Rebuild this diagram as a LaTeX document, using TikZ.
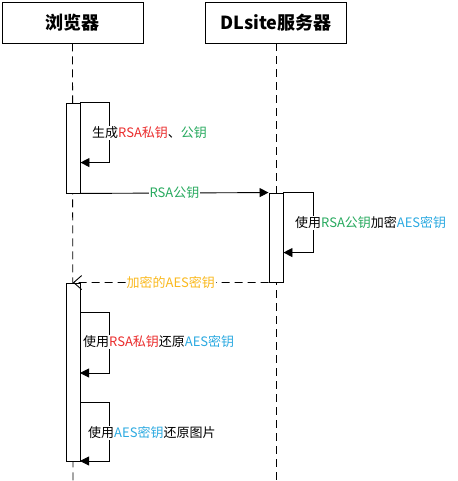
\documentclass[tikz,border=0pt]{standalone}
\usepackage{fontspec}
\setmainfont{Noto Sans CJK SC}
\usetikzlibrary{arrows.meta, positioning}
\definecolor{keyred}{RGB}{235,45,45}
\definecolor{keygreen}{RGB}{40,170,95}
\definecolor{keyblue}{RGB}{45,170,225}
\definecolor{keygold}{RGB}{250,185,30}
\tikzset{
  actor/.style={draw=black, line width=0.9pt, fill=white, minimum width=141pt, minimum height=41pt, font=\fontsize{18}{20}\selectfont\bfseries},
  lifeline/.style={draw=black, line width=0.9pt, dash pattern=on 8pt off 5pt},
  activation/.style={draw=black, line width=0.9pt, fill=white, minimum width=14pt, inner sep=0pt},
  msg/.style={draw=black, line width=0.9pt, -{Triangle[length=9pt,width=9pt]}},
  reply/.style={draw=black, line width=0.9pt, dash pattern=on 8pt off 5pt, -{Straight Barb[length=8pt,width=14pt]}},
  msglabel/.style={fill=white, inner sep=1pt, font=\fontsize{13}{15}\selectfont}
}
\begin{document}
\begin{tikzpicture}[x=1pt, y=-1pt]
  \useasboundingbox (0,0) rectangle (457,481);
  % Actors
  \node[actor] (browser) at (72.5,22.5) {浏览器};
  \node[actor] (server) at (276,22.5) {DLsite服务器};
  % Lifelines
  \coordinate (browserend) at (73,481);
  \coordinate (serverend) at (276,481);
  \draw[lifeline] (browser.south) -- (browserend);
  \draw[lifeline] (server.south) -- (serverend);
  % Activations
  \node[activation, minimum height=90pt] (act1) at (73,148) {};
  \node[activation, minimum height=89pt] (act2) at (276,237.5) {};
  \node[activation, minimum height=178pt] (act3) at (73,372) {};
  % Generate key pair
  \draw[msg] (act1.north east) -- ++(29,0) -- ++(0,60) -- ++(-29,0);
  \node[msglabel, anchor=west] (genkeys) at (91,133) {生成\textcolor{keyred}{RSA私钥}、\textcolor{keygreen}{公钥}};
  % Send public key
  \draw[msg] (act1.south east) -- (act2.north west)
    node[midway, msglabel] (sendpub) {\textcolor{keygreen}{RSA公钥}};
  % Encrypt AES key
  \draw[msg] (act2.north east) -- ++(30,0) -- ++(0,60) -- ++(-30,0);
  \node[msglabel, anchor=west] (encaes) at (294,223) {使用\textcolor{keygreen}{RSA公钥}加密\textcolor{keyblue}{AES密钥}};
  % Return encrypted key
  \draw[reply] (act2.south west) -- (act3.north)
    node[midway, msglabel] (sendaes) {\textcolor{keygold}{加密的AES密钥}};
  % Decrypt AES key
  \coordinate (decstart) at (80,312);
  \draw[msg] (decstart) -- ++(29,0) -- ++(0,61) -- ++(-29,0);
  \node[msglabel, anchor=west] (decaes) at (82,342) {使用\textcolor{keyred}{RSA私钥}还原\textcolor{keyblue}{AES密钥}};
  % Decrypt image
  \coordinate (imgstart) at (80,402);
  \draw[msg] (imgstart) -- ++(29,0) -- ++(0,59) -- ++(-29,0);
  \node[msglabel, anchor=west] (decimg) at (87,433) {使用\textcolor{keyblue}{AES密钥}还原图片};
\end{tikzpicture}
\end{document}
